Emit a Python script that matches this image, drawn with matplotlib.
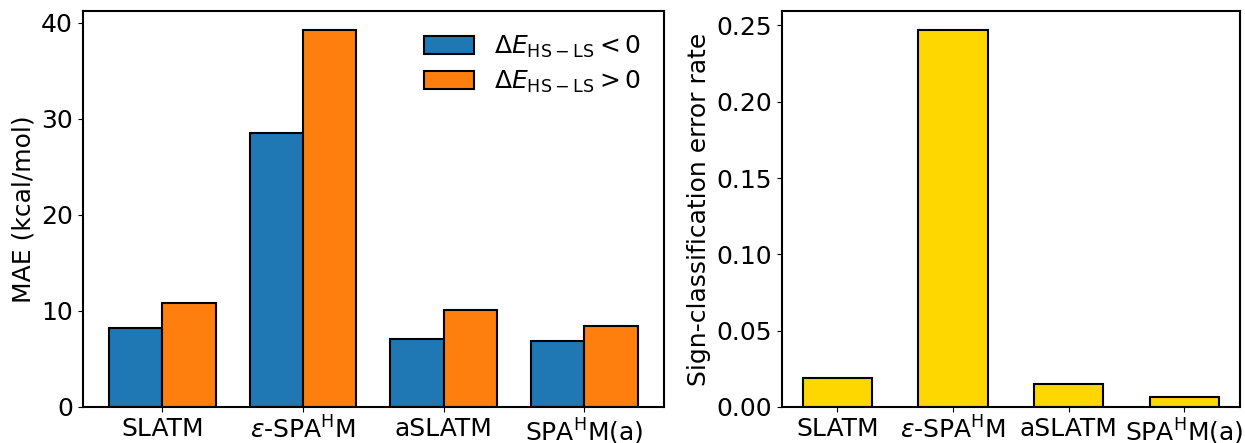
import matplotlib
import numpy as np
from matplotlib import pyplot as plt

matplotlib.use('Agg')

methods = ['SLATM', r'$\varepsilon$-SPA$^{\mathrm{H}}$M', 'aSLATM', r'SPA$^{\mathrm{H}}$M(a)']
mae_neg = [8.2, 28.55, 7.05, 6.85]
mae_pos = [10.8, 39.25, 10.07, 8.42]
sign_err = [0.019, 0.247, 0.015, 0.0065]

if __name__ == '__main__':
    plt.rcParams['font.size'] = 18
    fig = plt.figure(figsize=(12.45, 4.43), dpi=100)
    ax1 = fig.add_axes([0.0664, 0.0813, 0.4669, 0.8937])
    ax2 = fig.add_axes([0.6279, 0.0813, 0.3681, 0.8937])

    x = np.arange(len(methods))
    w = 0.38
    ax1.bar(x - w / 2, mae_neg, w, color='#1f77b4', edgecolor='black', linewidth=1.5,
            label=r'$\Delta E_{\mathrm{HS-LS}} < 0$')
    ax1.bar(x + w / 2, mae_pos, w, color='#ff7f0e', edgecolor='black', linewidth=1.5,
            label=r'$\Delta E_{\mathrm{HS-LS}} > 0$')
    ax1.set_xticks(x)
    ax1.set_xticklabels(methods)
    ax1.set_ylabel('MAE (kcal/mol)')
    ax1.legend(frameon=False, loc='upper right', labelspacing=0.35)

    ax2.bar(x, sign_err, 0.6, color='#FFD700', edgecolor='black', linewidth=1.5)
    ax2.set_xticks(x)
    ax2.set_xticklabels(methods)
    ax2.set_ylabel('Sign-classification error rate')

    for ax in (ax1, ax2):
        for s in ax.spines.values():
            s.set_linewidth(1.5)

    plt.savefig('out.png', dpi=100)
    plt.close()
